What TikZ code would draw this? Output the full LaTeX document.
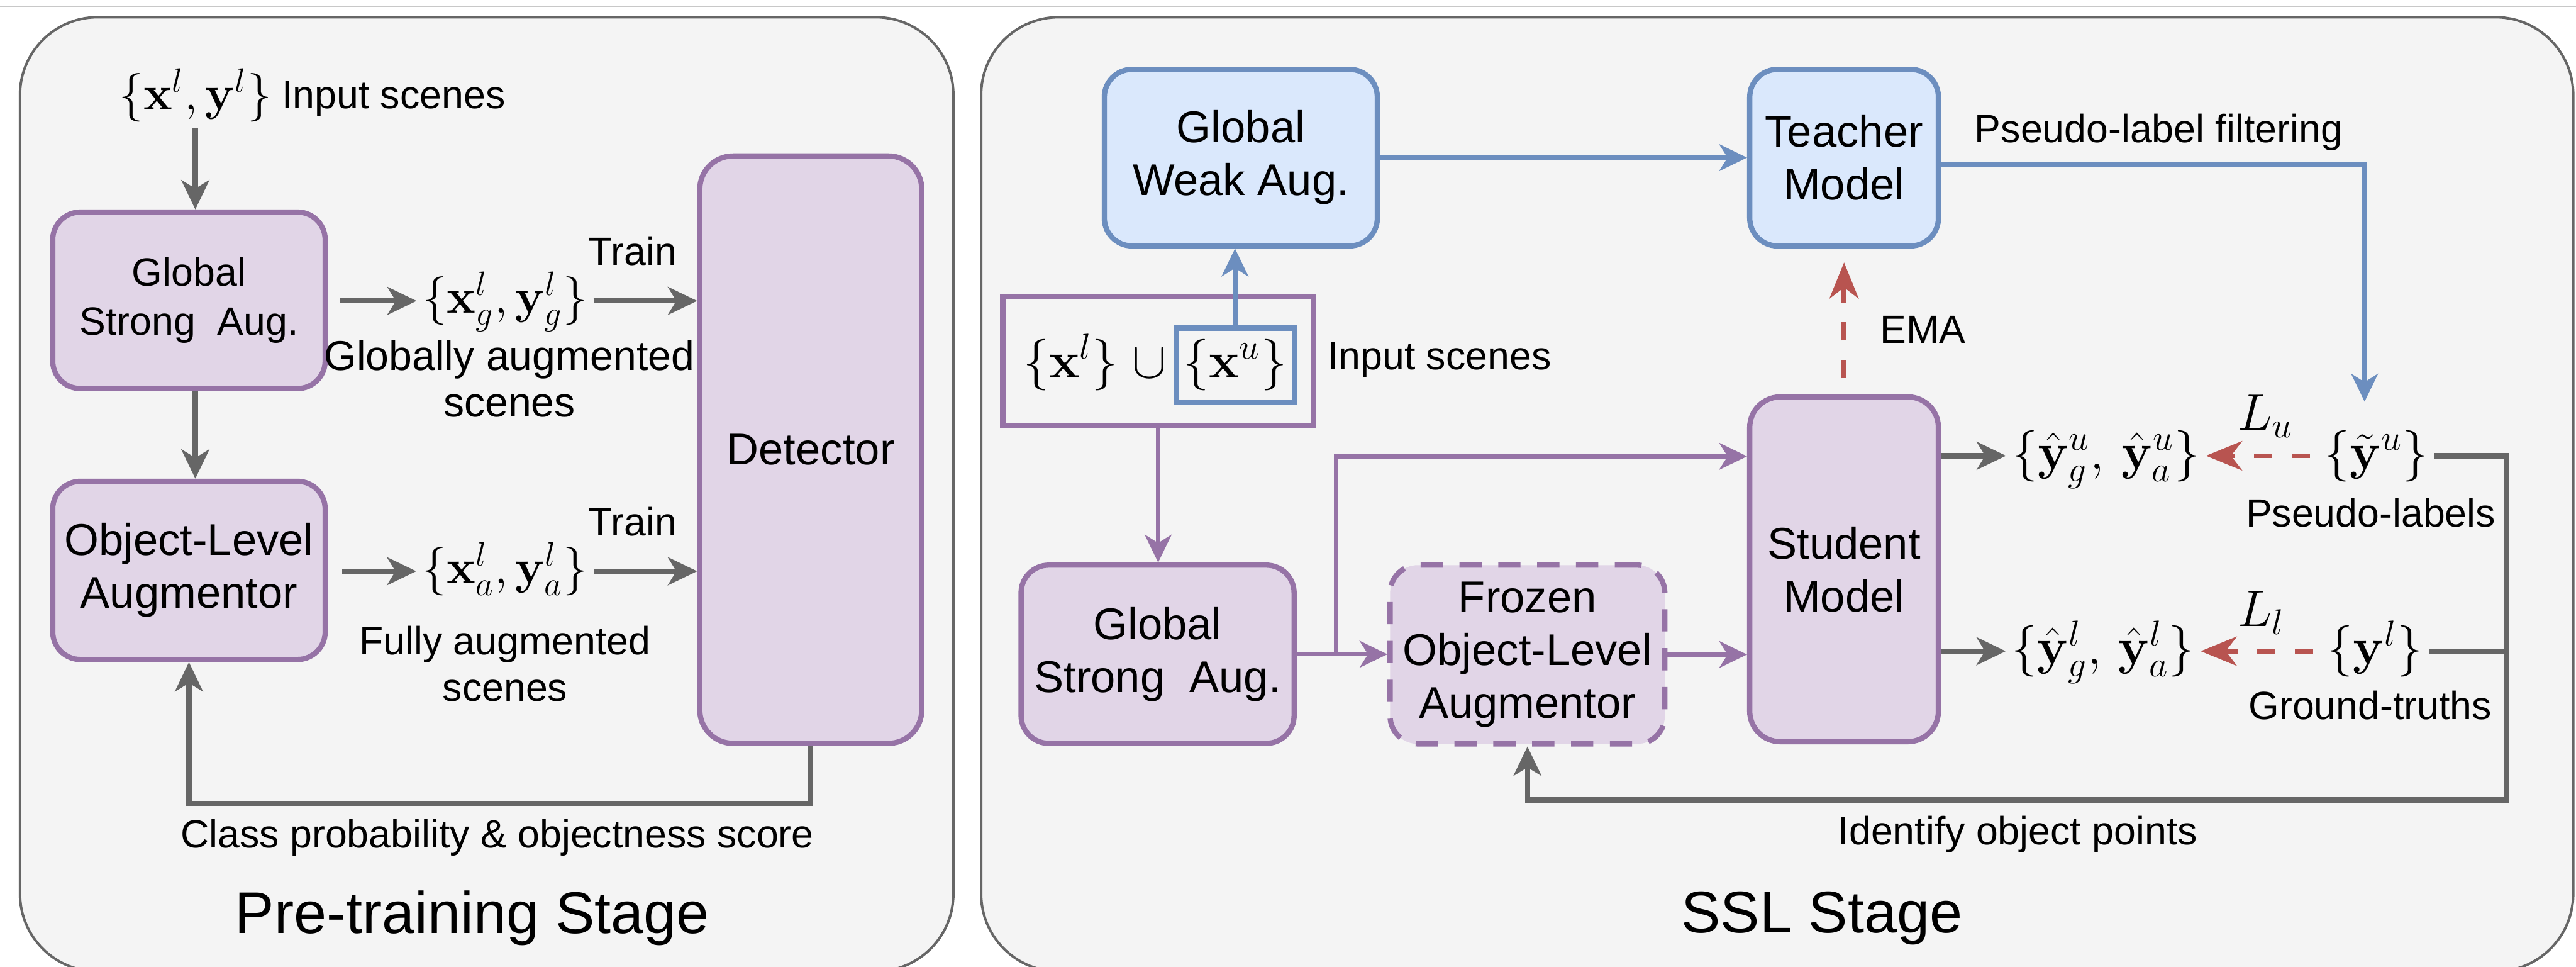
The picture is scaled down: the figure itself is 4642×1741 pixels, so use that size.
\RequirePackage{fix-cm}
\documentclass[tikz,border=0pt]{standalone}
\usepackage[no-math]{fontspec}
\setmainfont{Liberation Sans}
\usetikzlibrary{arrows.meta}
\definecolor{pfill}{HTML}{E1D5E7}
\definecolor{pline}{HTML}{9673A6}
\definecolor{bfill}{HTML}{DAE8FC}
\definecolor{bline}{HTML}{6C8EBF}
\definecolor{rline}{HTML}{B85450}
\definecolor{gline}{HTML}{666666}
\definecolor{panelfill}{HTML}{F4F4F4}
\definecolor{sepgray}{HTML}{C8C8C8}
\newcommand\boxfs{\fontsize{16}{19}\selectfont}
\newcommand\smallboxfs{\fontsize{14.2}{17.5}\selectfont}
\newcommand\labfs{\fontsize{14.2}{16.8}\selectfont}
\newcommand\globfs{\fontsize{15}{16.8}\selectfont}
\newcommand\titfs{\fontsize{21.2}{25}\selectfont}
\newcommand\mthL{\fontsize{17.5}{21}\selectfont}
\newcommand\mthR{\fontsize{18.5}{22}\selectfont}
\begin{document}
\begin{tikzpicture}[x=0.2pt,y=-0.2pt,
  panel/.style={draw=gline, fill=panelfill, line width=0.9pt, rounded corners=28pt},
  pbox/.style={draw=pline, fill=pfill, line width=1.9pt, rounded corners=10pt, align=center, font=\boxfs, inner sep=0pt},
  bbox/.style={draw=bline, fill=bfill, line width=1.9pt, rounded corners=10pt, align=center, font=\boxfs, inner sep=0pt},
  lab/.style={font=\labfs, inner sep=1pt, align=center},
  tit/.style={font=\titfs, inner sep=1pt},
  mL/.style={font=\mthL, inner sep=2pt, text height=13.6pt, text depth=4.7pt},
  mR/.style={font=\mthR, inner sep=2pt, text height=14.4pt, text depth=5pt},
  mS/.style={font=\mthR, inner sep=1pt},
  gcon/.style={draw=gline, line width=1.9pt},
  garrow/.style={gcon, -{Stealth[length=10.5pt,width=10pt,inset=3pt]}},
  parrow/.style={draw=pline, line width=1.6pt, -{Stealth[length=10pt,width=9.6pt,inset=3pt]}},
  barrow/.style={draw=bline, line width=1.7pt, -{Stealth[length=10pt,width=9.6pt,inset=3pt]}},
  rarrow/.style={draw=rline, line width=1.7pt, dash pattern=on 6.6pt off 7pt, -{Stealth[length=13pt,width=10.5pt,inset=4pt]}}
]
\useasboundingbox (0,0) rectangle (4642,1741);
\clip (0,0) rectangle (4642,1741);
\draw[sepgray, line width=0.4pt] (0,11) -- (4642,11);
\draw[panel] (36,31) rectangle (1718,1750);
\draw[panel] (1768,31) rectangle (4637,1750);

% ---------------- Pre-training stage ----------------
\node[pbox, font=\smallboxfs, minimum width=98.2pt, minimum height=63.6pt] (gsaL) at (340.5,541) {Global\\Strong\ \ Aug.};
\node[pbox, minimum width=98.2pt, minimum height=64.2pt] (olaL) at (340.5,1027.5) {Object-Level\\Augmentor};
\node[pbox, minimum width=80pt, minimum height=211.6pt, rounded corners=12pt] (det) at (1461,810) {Detector};

\node[mL] (inL) at (352,175) {$\{\mathbf{x}^l,\mathbf{y}^l\}$};
\node[lab, anchor=west] (inLt) at (502,178) {Input scenes};
\node[mL] (xg) at (910,542) {$\{\mathbf{x}_g^l,\mathbf{y}_g^l\}$};
\node[lab] (tr1) at (1140,452) {Train};
\node[lab, font=\globfs] (glob) at (918,682) {Globally augmented\\scenes};
\node[mL] (xa) at (910,1029) {$\{\mathbf{x}_a^l,\mathbf{y}_a^l\}$};
\node[lab] (tr2) at (1140,940) {Train};
\node[lab] (full) at (910,1196) {Fully augmented\\scenes};
\node[lab] (cls) at (896,1509) {Class probability \& objectness score};
\node[tit] (t1) at (851,1654) {Pre-training Stage};
\coordinate (fbL) at (900,1447);

\draw[garrow] (inL.south) -- (inL.south |- gsaL.north);
\draw[garrow] (gsaL.south -| inL.south) -- (olaL.north -| inL.south);
\draw[garrow, shorten <=4.4pt] (gsaL.east |- xg) -- (xg.west);
\draw[garrow] (xg.east) -- (xg.east -| det.west);
\draw[garrow, shorten <=5.2pt] (olaL.east |- xa) -- (xa.west);
\draw[garrow] (xa.east) -- (xa.east -| det.west);
\draw[garrow] (det.south) |- (fbL) -| (olaL.south);

% ---------------- SSL stage ----------------
\node[bbox, minimum width=98.4pt, minimum height=63.6pt] (gwa) at (2236,284) {Global\\Weak Aug.};
\node[bbox, minimum width=68pt, minimum height=63.6pt] (teacher) at (3323,284) {Teacher\\Model};
\node[pbox, minimum width=68pt, minimum height=124.2pt, rounded corners=11pt] (student) at (3323,1025.5) {Student\\Model};
\node[pbox, minimum width=98.4pt, minimum height=64.2pt] (gsaR) at (2086,1178.5) {Global\\Strong\ \ Aug.};
\node[pbox, dash pattern=on 8pt off 6pt, minimum width=99pt, minimum height=64.4pt] (frozen) at (2752.5,1179) {Frozen\\Object-Level\\Augmentor};

\node[draw=pline, line width=1.9pt, fill=panelfill, minimum width=112pt, minimum height=46.2pt, inner sep=0pt] (inR) at (2087,650.5) {};
\node[draw=bline, line width=1.9pt, fill=panelfill, minimum width=42.6pt, minimum height=26.6pt, inner sep=0pt, font=\mthR] (inU) at (2225.5,657.5) {$\{\mathbf{x}^u\}$};
\node[mR] (inLab) at (1973,657) {$\{\mathbf{x}^l\}\;\cup$};
\node[lab] (inRt) at (2594,649) {Input scenes};

\node[lab] (ema) at (3465,594) {EMA};
\node[lab] (plf) at (3890,238) {Pseudo-label filtering};
\node[mR] (yhu) at (3795,821) {$\{\hat{\mathbf{y}}_g^u,\,\hat{\mathbf{y}}_a^u\}$};
\node[mR] (ytu) at (4282,821) {$\{\tilde{\mathbf{y}}^u\}$};
\node[mS] (Lu) at (4083,750) {$L_u$};
\node[lab] (psl) at (4272,924) {Pseudo-labels};
\node[mR] (yhl) at (3790,1173) {$\{\hat{\mathbf{y}}_g^l,\,\hat{\mathbf{y}}_a^l\}$};
\node[mR] (yl) at (4280,1173) {$\{\mathbf{y}^l\}$};
\node[mS] (Ll) at (4075,1104) {$L_l$};
\node[lab] (gt) at (4271,1270) {Ground-truths};
\node[lab] (iop) at (3636,1503) {Identify object points};
\node[tit] (t2) at (3283,1654) {SSL Stage};

\coordinate (jt) at (2408,822);
\coordinate (bc) at (4261,297);
\coordinate (rc) at (4517,821);
\coordinate (rb) at (4517,1441);

\draw[barrow] (gwa.east) -- (gwa.east -| teacher.west);
\draw[barrow] (inU.north) -- (inU.north |- gwa.south);
\draw[parrow] (inR.south) -- (inR.south |- gsaR.north);
\draw[parrow] (gsaR.east) -- (gsaR.east -| frozen.west);
\draw[parrow] (gsaR.east -| jt) -- (jt) -- (jt -| student.west);
\draw[parrow] (frozen.east) -- (frozen.east -| student.west);
\draw[rarrow, shorten <=5.8pt, shorten >=5pt] (student.north) -- (teacher.south);
\draw[barrow, shorten >=7.6pt] (teacher.east |- bc) -- (bc) -- (bc |- ytu.north);
\draw[garrow] (student.east |- yhu) -- (yhu.west);
\draw[rarrow, shorten <=3pt] (ytu.west) -- (yhu.east);
\draw[garrow] (ytu.east) -- (rc) -- (rb) -| (frozen.south);
\draw[garrow] (student.east |- yhl) -- (yhl.west);
\draw[rarrow, shorten <=3pt] (yl.west) -- (yhl.east);
\draw[gcon] (yl.east) -- (yl.east -| rc);
\end{tikzpicture}
\end{document}
